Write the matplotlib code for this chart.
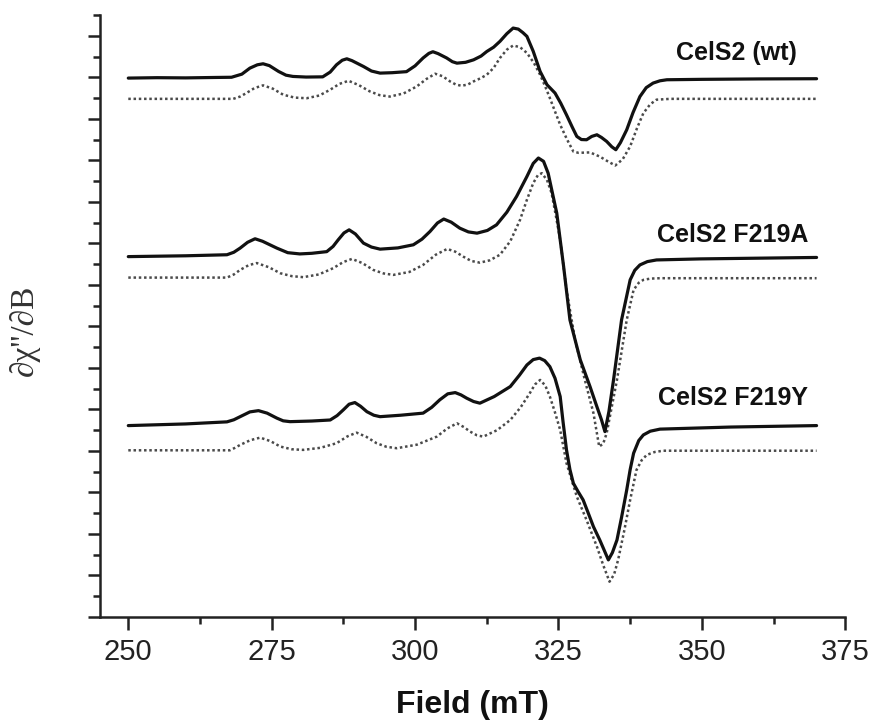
import matplotlib
matplotlib.use("Agg")
import matplotlib.pyplot as plt

# field (mT) / intensity (arb. units, curves stacked with offsets as in the figure)
wt_field = [250.0, 255.0, 260.0, 265.0, 268.0, 269.8, 271.2, 272.5, 273.5, 274.6,
            276.2, 277.5, 278.7, 281.0, 283.9, 285.2, 286.3, 287.3, 288.1, 289.0,
            291.0, 292.4, 293.9, 296.0, 298.5, 300.0, 301.4, 302.4, 303.1, 304.0,
            305.5, 306.5, 307.3, 308.8, 310.2, 311.5, 312.5, 313.7, 314.8, 316.0,
            317.1, 318.0, 318.8, 319.5, 320.6, 321.8, 323.0, 324.4, 325.4, 326.4,
            327.4, 328.2, 329.0, 329.9, 330.8, 331.7, 332.5, 333.4, 334.3, 335.0,
            335.8, 336.9, 338.0, 339.2, 340.3, 341.5, 342.7, 343.9, 350.0, 360.0,
            370.0]
wt_exp = [25.96, 25.98, 25.97, 25.99, 26.00, 26.15, 26.44, 26.60, 26.65, 26.56,
          26.28, 26.10, 26.04, 26.01, 26.02, 26.25, 26.60, 26.82, 26.89, 26.80,
          26.52, 26.30, 26.20, 26.22, 26.27, 26.55, 26.93, 27.15, 27.23, 27.14,
          26.93, 26.75, 26.68, 26.72, 26.84, 27.02, 27.24, 27.45, 27.73, 28.10,
          28.37, 28.32, 28.15, 27.97, 27.25, 26.28, 25.64, 25.24, 24.75, 24.19,
          23.60, 23.15, 23.00, 22.99, 23.15, 23.23, 23.10, 22.91, 22.65, 22.51,
          22.85, 23.47, 24.30, 25.07, 25.50, 25.72, 25.83, 25.88, 25.90, 25.92,
          25.93]

wt_sim_field = [250.0, 268.3, 269.5, 270.6, 272.0, 273.5, 275.2, 277.0, 279.0, 281.1,
                283.3, 285.2, 286.8, 288.4, 290.2, 292.1, 293.8, 295.6, 298.0, 300.3,
                302.0, 303.5, 304.8, 306.1, 307.1, 308.1, 309.2, 310.2, 311.4, 312.5,
                313.7, 314.8, 316.0, 317.1, 318.3, 319.5, 320.7, 321.8, 322.7, 323.5,
                324.4, 325.3, 326.5, 327.6, 328.5, 330.5, 332.2, 333.6, 334.9, 336.2,
                337.5, 338.7, 339.8, 341.0, 342.1, 344.5, 370.0]
wt_sim = [24.96, 24.96, 25.07, 25.24, 25.48, 25.61, 25.45, 25.16, 25.02, 24.99,
          25.12, 25.40, 25.68, 25.83, 25.62, 25.32, 25.14, 25.07, 25.22, 25.56,
          25.92, 26.17, 26.05, 25.80, 25.65, 25.59, 25.65, 25.80, 25.95, 26.12,
          26.45, 26.93, 27.33, 27.53, 27.45, 27.17, 26.70, 26.12, 25.55, 25.00,
          24.35, 23.71, 23.00, 22.42, 22.36, 22.38, 22.18, 21.95, 21.75, 22.05,
          22.67, 23.55, 24.27, 24.70, 24.92, 24.96, 24.96]

a_field = [250.0, 260.0, 267.2, 268.4, 269.5, 270.8, 272.1, 273.4, 275.9, 277.8,
           279.9, 282.0, 284.6, 285.7, 286.6, 287.6, 288.5, 289.6, 291.0, 292.4,
           293.9, 297.0, 299.7, 301.2, 302.6, 303.9, 305.0, 306.3, 307.8, 309.3,
           310.8, 312.6, 314.2, 316.0, 317.7, 319.5, 320.6, 321.5, 322.4, 323.2,
           324.7, 325.9, 327.0, 328.8, 330.5, 331.7, 332.5, 333.1, 333.8, 334.6,
           336.0, 337.5, 338.3, 339.2, 340.5, 342.1, 349.7, 370.0]
a_exp = [17.36, 17.40, 17.45, 17.57, 17.77, 18.05, 18.22, 18.10, 17.77, 17.55,
         17.49, 17.52, 17.60, 17.85, 18.17, 18.50, 18.65, 18.45, 18.01, 17.82,
         17.72, 17.78, 17.93, 18.20, 18.57, 18.98, 19.17, 19.02, 18.73, 18.55,
         18.49, 18.62, 18.89, 19.50, 20.26, 21.22, 21.85, 22.11, 21.95, 21.38,
         19.46, 16.88, 14.31, 12.39, 11.10, 10.13, 9.50, 8.93, 9.90, 11.42,
         14.31, 16.24, 16.70, 16.96, 17.12, 17.20, 17.25, 17.32]

a_sim_field = [250.0, 267.2, 268.4, 269.5, 271.0, 272.4, 274.5, 276.5, 278.5, 280.5,
               283.2, 285.7, 287.5, 289.0, 290.8, 292.7, 294.5, 296.2, 299.0, 301.4,
               303.6, 305.6, 307.0, 308.4, 309.8, 311.3, 313.0, 314.8, 316.6, 318.3,
               319.5, 320.6, 321.4, 322.1, 323.0, 323.8, 324.5, 325.3, 326.4, 327.9,
               329.6, 331.1, 332.1, 332.8, 333.4, 335.2, 336.9, 338.1, 339.0, 339.8,
               341.0, 342.7, 370.0]
a_sim = [16.35, 16.35, 16.50, 16.72, 16.95, 17.05, 16.85, 16.56, 16.42, 16.37,
         16.50, 16.80, 17.10, 17.25, 17.05, 16.72, 16.55, 16.48, 16.62, 16.96,
         17.45, 17.73, 17.60, 17.36, 17.15, 17.07, 17.18, 17.45, 18.10, 19.13,
         20.10, 20.90, 21.28, 21.38, 21.05, 20.42, 19.40, 18.17, 15.76, 13.35,
         11.42, 9.82, 8.21, 8.35, 8.85, 11.42, 14.31, 15.76, 16.10, 16.24,
         16.30, 16.32, 16.32]

y_field = [250.0, 260.0, 267.2, 268.4, 269.5, 271.2, 272.7, 274.2, 275.9, 277.0,
           278.2, 282.0, 285.2, 286.4, 287.5, 288.5, 289.5, 290.5, 291.6, 292.8,
           293.9, 297.5, 301.4, 302.9, 304.3, 305.7, 307.0, 308.0, 309.0, 310.2,
           311.3, 313.8, 316.6, 318.2, 319.5, 320.6, 321.7, 322.6, 323.5, 324.4,
           325.3, 325.8, 326.4, 327.0, 327.6, 328.4, 329.3, 330.2, 331.1, 332.2,
           333.0, 333.7, 334.4, 335.2, 336.0, 336.9, 337.5, 338.1, 339.0, 339.8,
           341.0, 342.7, 355.0, 370.0]
y_exp = [9.22, 9.30, 9.40, 9.50, 9.65, 9.88, 9.94, 9.82, 9.58, 9.45,
         9.41, 9.44, 9.49, 9.70, 9.98, 10.25, 10.33, 10.15, 9.89, 9.72,
         9.65, 9.72, 9.82, 10.10, 10.46, 10.75, 10.81, 10.70, 10.54, 10.38,
         10.30, 10.62, 11.10, 11.65, 12.14, 12.40, 12.47, 12.35, 12.06, 11.50,
         10.62, 9.40, 8.05, 7.10, 6.44, 6.05, 5.64, 5.00, 4.35, 3.71,
         3.20, 2.75, 3.10, 3.71, 4.80, 6.12, 7.10, 7.89, 8.50, 8.77,
         8.95, 9.05, 9.15, 9.22]

y_sim_field = [250.0, 267.7, 268.6, 269.5, 271.3, 273.0, 274.8, 276.5, 278.5, 280.5,
               283.5, 286.3, 288.2, 289.8, 291.5, 293.3, 295.0, 296.8, 300.3, 303.8,
               305.6, 307.3, 308.5, 309.6, 310.8, 311.9, 314.3, 316.6, 318.4, 320.0,
               320.9, 321.8, 322.7, 323.5, 324.4, 325.3, 326.4, 328.2, 329.9, 331.7,
               332.8, 333.9, 334.7, 335.4, 336.5, 337.5, 338.6, 339.5, 340.4, 341.8,
               343.3, 370.0]
y_sim = [8.03, 8.03, 8.15, 8.29, 8.52, 8.64, 8.47, 8.21, 8.08, 8.05,
         8.15, 8.37, 8.70, 8.88, 8.68, 8.37, 8.20, 8.13, 8.30, 8.69,
         9.08, 9.33, 9.15, 8.93, 8.75, 8.69, 9.00, 9.49, 10.10, 10.78,
         11.20, 11.42, 11.15, 10.62, 9.85, 9.01, 7.41, 5.80, 4.67, 3.39,
         2.50, 1.70, 2.05, 2.75, 4.20, 5.64, 7.08, 7.55, 7.81, 7.95,
         8.01, 8.01]

labels = ["CelS2 (wt)", "CelS2 F219A", "CelS2 F219Y"]
label_pos = [(366.6, 27.18), (368.5, 18.41), (368.5, 10.55)]

plt.rcParams['font.family'] = ['Liberation Sans', 'DejaVu Sans']

fig = plt.figure(figsize=(8.75, 7.24), dpi=100)
ax = fig.add_axes([0.1143, 0.1478, 0.9660 - 0.1143, 0.8315])

dots = (0, (1, 1.1))
for fx, fy, sx, sy in [(wt_field, wt_exp, wt_sim_field, wt_sim),
                       (a_field, a_exp, a_sim_field, a_sim),
                       (y_field, y_exp, y_sim_field, y_sim)]:
    ax.plot(sx, sy, color='#4a4a4a', lw=1.8, linestyle=dots)
    ax.plot(fx, fy, color='#111111', lw=2.3, solid_joinstyle='round',
            solid_capstyle='round')

for txt, (x, y) in zip(labels, label_pos):
    ax.text(x, y, txt, ha='right', va='center', fontsize=18, fontweight='bold',
            color='#111111')

ax.set_xlim(245.07, 375)
ax.set_ylim(0, 29)
ax.set_xticks([250, 275, 300, 325, 350, 375])
ax.set_xticks([262.5, 287.5, 312.5, 337.5, 362.5], minor=True)
ax.set_yticks(range(0, 29, 2))
ax.set_yticks(range(1, 30, 2), minor=True)
ax.set_yticklabels([])

for s in ['top', 'right']:
    ax.spines[s].set_visible(False)
for s in ['left', 'bottom']:
    ax.spines[s].set_linewidth(1.8)
    ax.spines[s].set_color('#222222')

ax.tick_params(which='major', direction='out', length=9, width=1.8, color='#222222',
               labelsize=21, pad=6, labelcolor='#222222')
ax.tick_params(which='minor', direction='out', length=5, width=1.8, color='#222222')

fig.text(472 / 875, 1 - 705 / 724, 'Field (mT)', ha='center', va='center',
         fontsize=23, fontweight='bold', color='#111111')
fig.text(24 / 875, 1 - 330 / 724, "∂χ''/∂B", ha='center', va='center', rotation=90,
         fontsize=24, color='#333333', family=['Liberation Serif', 'DejaVu Serif'])

fig.savefig('out.png', dpi=100)
